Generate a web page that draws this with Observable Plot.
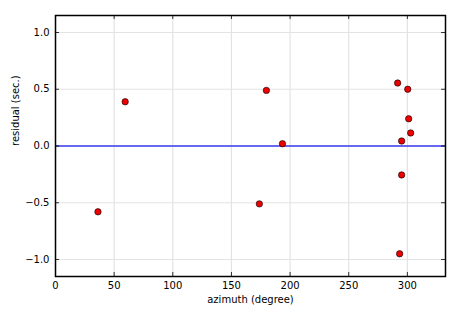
<!DOCTYPE html>
<html>
<head>
<meta charset="utf-8">
<script src="https://cdn.jsdelivr.net/npm/d3@7"></script>
<script src="https://cdn.jsdelivr.net/npm/@observablehq/plot@0.6"></script>
<style>
  html, body { margin: 0; padding: 0; background: #fff; }
</style>
</head>
<body>
<div id="chart"></div>
<script>
const azimuth  = [36.2, 59.4, 173.8, 179.8, 193.5, 291.7, 293.4, 295.1, 295.1, 300.3, 301.1, 302.8];
const residual = [-0.58, 0.39, -0.51, 0.49, 0.02, 0.555, -0.95, 0.044, -0.255, 0.50, 0.24, 0.115];
const xTicks = [0, 50, 100, 150, 200, 250, 300];
const yTicks = [-1.0, -0.5, 0.0, 0.5, 1.0];

const data = azimuth.map((a, i) => ({azimuth: a, residual: residual[i]}));

const W = 465, H = 315, mL = 55, mR = 20, mT = 15, mB = 39;
const pw = W - mL - mR, ph = H - mT - mB;
const fmt = d => d3.format(".1f")(d).replace("-", "\u2212");

const chart = Plot.plot({
  width: W, height: H,
  marginLeft: mL, marginRight: mR, marginTop: mT, marginBottom: mB,
  style: {fontFamily: "DejaVu Sans", fontSize: "10px", background: "#fff", color: "#000"},
  x: {domain: [0, 332.5]},
  y: {domain: [-1.15, 1.15]},
  marks: [
    Plot.ruleX(xTicks, {x: d => d, stroke: "#e3e3e3", strokeWidth: 1.2}),
    Plot.ruleY(yTicks, {y: d => d, stroke: "#e3e3e3", strokeWidth: 1.2}),
    Plot.ruleY([0], {y: d => d, stroke: "#3a3aee", strokeWidth: 1.6}),
    Plot.ruleX(xTicks, {x: d => d, insetTop: ph - 4, stroke: "#000", strokeWidth: 0.8}),
    Plot.ruleX(xTicks, {x: d => d, insetBottom: ph - 4, stroke: "#000", strokeWidth: 0.8}),
    Plot.ruleY(yTicks, {y: d => d, insetRight: pw - 4, stroke: "#000", strokeWidth: 0.8}),
    Plot.ruleY(yTicks, {y: d => d, insetLeft: pw - 4, stroke: "#000", strokeWidth: 0.8}),
    Plot.axisX({ticks: xTicks, tickSize: 0, tickPadding: 5, label: null, fontSize: 10}),
    Plot.axisY({ticks: yTicks, tickSize: 0, tickPadding: 6, label: null, tickFormat: fmt, fontSize: 10}),
    Plot.dot(data, {x: "azimuth", y: "residual", r: 3.2, fill: "#ee0000", stroke: "#000", strokeWidth: 0.6}),
    Plot.frame({stroke: "#000", strokeWidth: 1.5}),
    Plot.text(["azimuth (degree)"], {frameAnchor: "bottom", dy: 26, fontSize: 10}),
    Plot.text(["residual (sec.)"], {frameAnchor: "left", dx: -40, rotate: -90, fontSize: 10})
  ]
});
document.getElementById("chart").appendChild(chart);
</script>
</body>
</html>
